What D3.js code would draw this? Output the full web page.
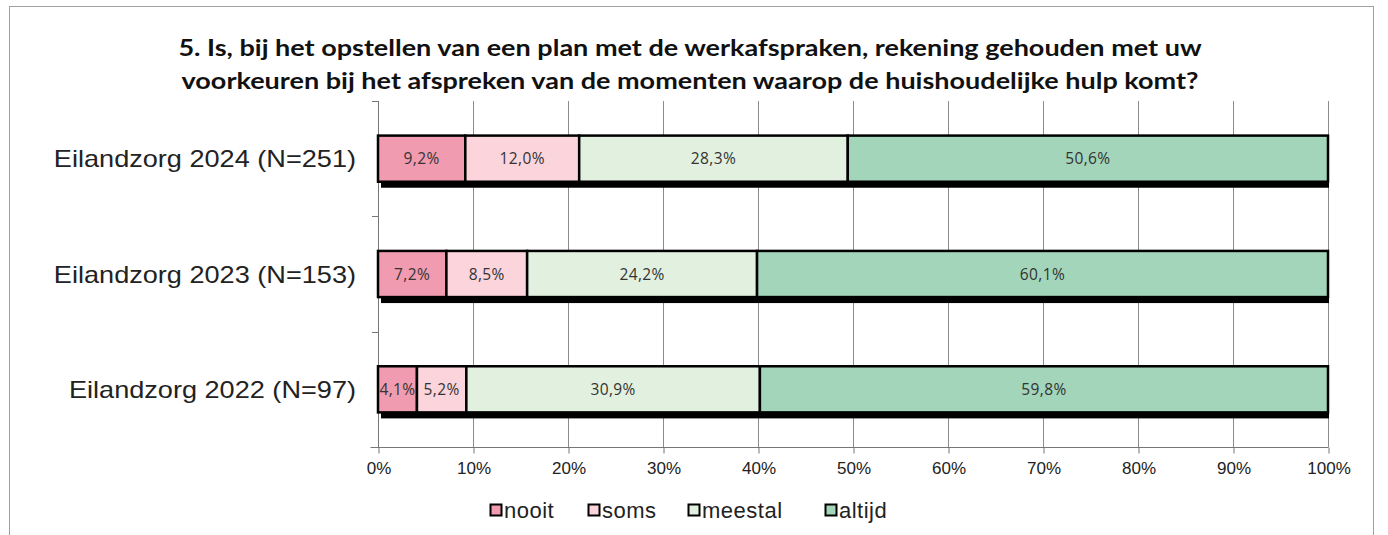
<!DOCTYPE html>
<html><head><meta charset="utf-8">
<script src="https://cdn.jsdelivr.net/npm/d3@7"></script>
<style>body{margin:0;background:#fff}svg{display:block}</style>
</head><body>
<svg id="c" width="1388" height="535"></svg>
<script>
const categories = ["Eilandzorg 2024 (N=251)", "Eilandzorg 2023 (N=153)", "Eilandzorg 2022 (N=97)"];
const seriesNames = ["nooit", "soms", "meestal", "altijd"];
const nooit = [9.2, 7.2, 4.1];
const soms = [12.0, 8.5, 5.2];
const meestal = [28.3, 24.2, 30.9];
const altijd = [50.6, 60.1, 59.8];
const tickValues = [0,10,20,30,40,50,60,70,80,90,100];
const colors = ["#f19bb0", "#fcd4dc", "#e2f0e0", "#a2d5b9"];
const titleLines = ["5. Is, bij het opstellen van een plan met de werkafspraken, rekening gehouden met uw",
  "voorkeuren bij het afspreken van de momenten waarop de huishoudelijke hulp komt?"];

const svg = d3.select("#c");
// frame
svg.append("rect").attr("x",9.5).attr("y",6.5).attr("width",1364).attr("height",540)
  .attr("fill","none").attr("stroke","#a0a0a0");

// title (stretched horizontally like the original)
const tsx = 1.175;
svg.append("g").attr("transform",`scale(${tsx},1)`).selectAll("text").data(titleLines).join("text")
  .attr("x",690/tsx).attr("y",(d,i)=>56+i*33).attr("text-anchor","middle")
  .attr("font-family","Lato, 'Open Sans', sans-serif").attr("font-weight","bold")
  .attr("font-size",23).attr("fill","#111").text(d=>d);

const x = d3.scaleLinear().domain([0,100]).range([378,1328]);
const y = d3.scaleBand().domain(categories).range([101,447]).paddingInner(0.6).paddingOuter(0.3);

// gridlines
svg.append("g").selectAll("line").data(tickValues.slice(1)).join("line")
  .attr("x1",d=>x(d)+0.5).attr("x2",d=>x(d)+0.5).attr("y1",101).attr("y2",447)
  .attr("stroke","#8c8c8c").attr("stroke-width",1);

// bottom axis
const xAxis = d3.axisBottom(x).tickValues(tickValues).tickFormat(d=>d+"%").tickSize(6).tickSizeOuter(0);
const gx = svg.append("g").attr("transform","translate(0.5,447.5)").call(xAxis);
gx.select(".domain").attr("stroke","#777").attr("d",`M${x(0)-8},0H${x(100)}`);
gx.selectAll(".tick line").attr("stroke","#777");
gx.selectAll(".tick text").attr("font-family","Arial, 'Liberation Sans', sans-serif").attr("font-size",17)
  .attr("fill","#222").attr("dy","1.0em");

// left axis
const gy = svg.append("g");
gy.append("line").attr("x1",378.5).attr("x2",378.5).attr("y1",101).attr("y2",447).attr("stroke","#777");
gy.selectAll("line.t").data([101,216,332,447]).join("line").attr("class","t")
  .attr("x1",372).attr("x2",378).attr("y1",d=>d+0.5).attr("y2",d=>d+0.5).attr("stroke","#777");
const csx = 1.13;
gy.append("g").attr("transform",`scale(${csx},1)`).selectAll("text").data(categories).join("text")
  .attr("x",356/csx).attr("y",d=>y(d)+y.bandwidth()/2).attr("dy","0.36em").attr("text-anchor","end")
  .attr("font-family","Arial, 'Liberation Sans', sans-serif").attr("font-size",24)
  .attr("fill","#222").text(d=>d);

// stacked data
const rows = categories.map((c,i)=>({cat:c, nooit:nooit[i], soms:soms[i], meestal:meestal[i], altijd:altijd[i]}));
rows.forEach(r=>{const t=r.nooit+r.soms+r.meestal+r.altijd; seriesNames.forEach(k=>r["p_"+k]=r[k]/t*100);});
const stack = d3.stack().keys(seriesNames.map(k=>"p_"+k));
const stacked = stack(rows);

// shadows
svg.append("g").selectAll("rect").data(rows).join("rect")
  .attr("x",x(0)+3).attr("y",d=>y(d.cat)+6).attr("width",x(100)-x(0)-2).attr("height",y.bandwidth())
  .attr("fill","#000");

const gs = svg.append("g").selectAll("g").data(stacked).join("g").attr("fill",(d,i)=>colors[i]);
gs.selectAll("rect").data(d=>d.map(p=>({p, key:d.key}))).join("rect")
  .attr("x",d=>x(d.p[0])).attr("y",d=>y(d.p.data.cat)).attr("width",d=>x(d.p[1])-x(d.p[0]))
  .attr("height",y.bandwidth()).attr("stroke","#000").attr("stroke-width",2.5);

// labels
gs.selectAll("text").data(d=>d.map(p=>({p, key:d.key}))).join("text")
  .attr("x",d=>(x(d.p[0])+x(d.p[1]))/2).attr("y",d=>y(d.p.data.cat)+y.bandwidth()/2)
  .attr("dy","0.36em").attr("text-anchor","middle")
  .attr("font-family","'Open Sans', sans-serif").attr("font-size",15.5).attr("letter-spacing","0.4px")
  .attr("fill","#333")
  .text(d=>d3.format(".1f")(d.p.data[d.key.slice(2)]).replace(".",",")+"%");

// legend
const legX = [490, 588, 688, 825];
const lg = svg.append("g").selectAll("g").data(seriesNames).join("g")
  .attr("transform",(d,i)=>`translate(${legX[i]},504)`);
lg.append("rect").attr("x",0.5).attr("y",0.5).attr("width",11).attr("height",11)
  .attr("fill",(d,i)=>colors[i]).attr("stroke","#000").attr("stroke-width",2);
lg.append("text").attr("x",14).attr("y",6).attr("dy","0.36em")
  .attr("font-family","Arial, 'Liberation Sans', sans-serif").attr("font-size",22)
  .attr("letter-spacing","0.5px").attr("fill","#222").text(d=>d);
</script>
</body></html>
